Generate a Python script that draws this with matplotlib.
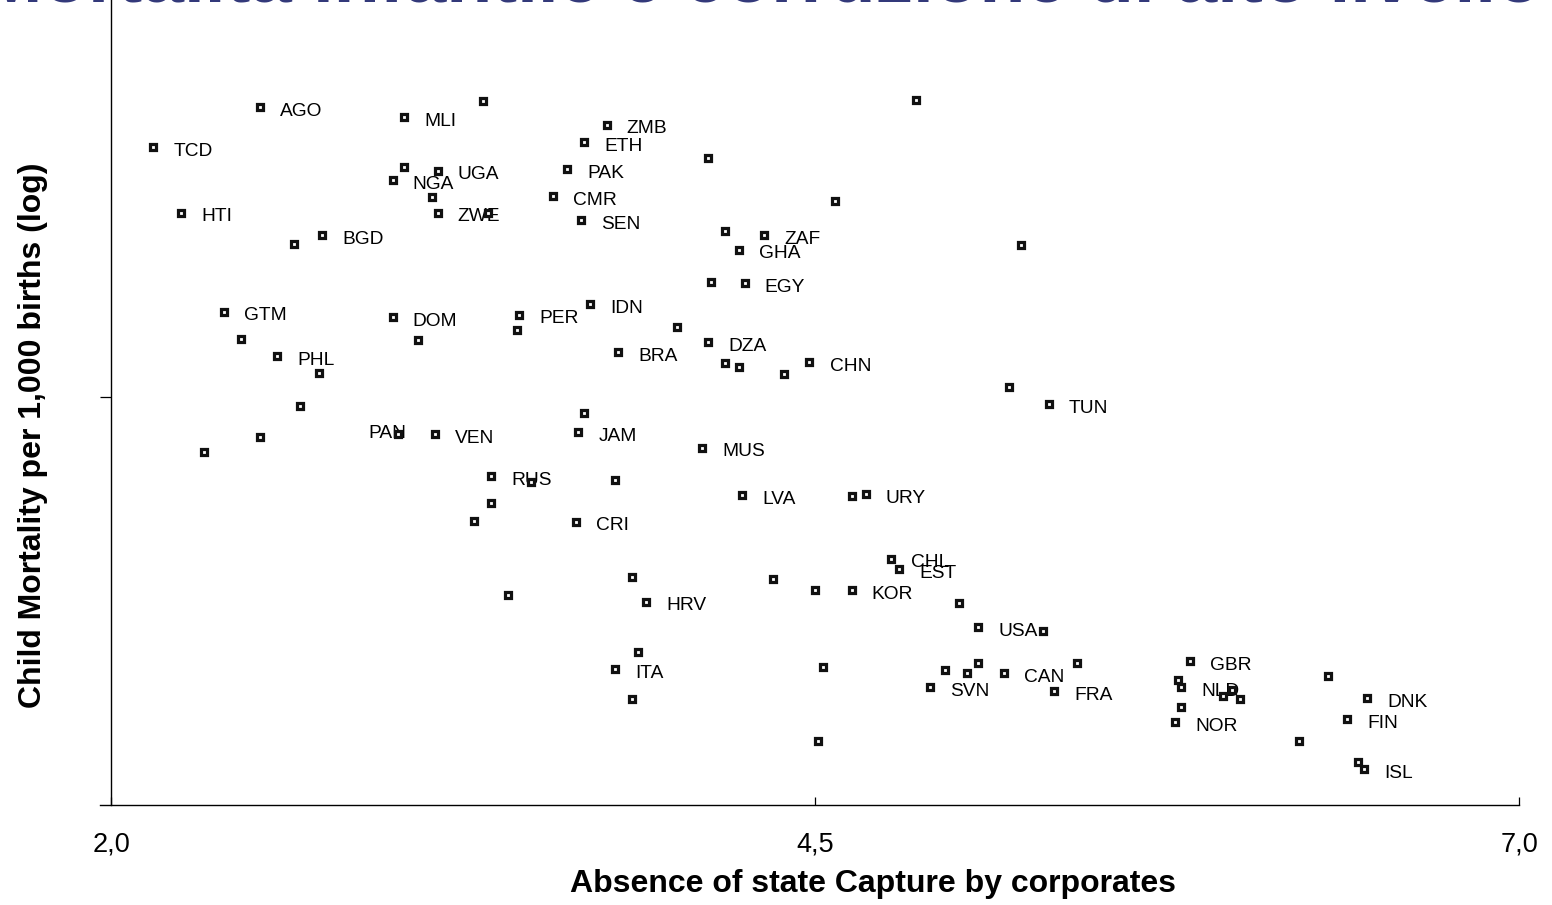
import matplotlib
matplotlib.use("Agg")
import matplotlib.pyplot as plt
from matplotlib.ticker import NullLocator, FixedLocator

plt.rcParams['font.family'] = ['Liberation Sans', 'DejaVu Sans']

# ---- Data ----
title = "Mortalità infantile e corruzione di alto livello"
x_label = "Absence of state Capture by corporates"
y_label = "Child Mortality per 1,000 births (log)"

countries = ["AGO", "MLI", "TCD", "ZMB", "ETH", "PAK", "UGA", "NGA", "ZWE", "CMR",
             "SEN", "HTI", "BGD", "ZAF", "GHA", "EGY", "GTM", "DOM", "PER", "IDN",
             "DZA", "BRA", "PHL", "CHN", "TUN", "PAN", "VEN", "JAM", "MUS", "RUS",
             "LVA", "URY", "CRI", "CHL", "EST", "KOR", "HRV", "USA", "ITA", "CAN",
             "GBR", "SVN", "FRA", "NLD", "DNK", "FIN", "NOR", "ISL"]
capture = [2.53, 3.04, 2.15, 3.76, 3.68, 3.62, 3.16, 3.00, 3.16, 3.57,
           3.67, 2.25, 2.75, 4.32, 4.23, 4.25, 2.40, 3.00, 3.45, 3.70,
           4.12, 3.80, 2.59, 4.48, 5.33, 3.02, 3.15, 3.66, 4.10, 3.35,
           4.24, 4.68, 3.65, 4.77, 4.80, 4.63, 3.90, 5.08, 3.79, 5.17,
           5.83, 4.91, 5.35, 5.80, 6.46, 6.39, 5.78, 6.45]
mortality = [277, 259, 212, 246, 219, 183, 181, 170, 137, 153,
             130, 137, 118, 118, 107, 85.6, 70.6, 68.2, 69.2, 74.4,
             57.7, 54.0, 52.6, 50.5, 38.2, 31.2, 31.2, 31.6, 28.5, 23.6,
             20.8, 20.9, 17.4, 13.6, 12.7, 11.0, 10.2, 8.62, 6.51, 6.34,
             6.87, 5.77, 5.62, 5.77, 5.36, 4.66, 4.57, 3.34]

other_capture = [3.32, 4.86, 4.12, 3.04, 3.14, 3.34, 4.57, 2.65, 4.18, 5.23,
                 4.13, 3.44, 4.01, 2.46, 3.09, 4.18, 4.23, 4.39, 2.74, 5.19,
                 2.67, 3.68, 2.53, 2.33, 3.49, 3.79, 4.63, 3.35, 3.29, 3.85,
                 4.35, 3.41, 4.50, 5.01, 5.31, 3.87, 4.53, 4.96, 5.04, 5.08,
                 5.43, 6.32, 5.79, 5.95, 5.98, 6.01, 3.85, 5.80, 4.51, 6.22,
                 6.43]
other_mortality = [288, 290, 197, 186, 152, 137, 148, 111, 121, 110,
                   86.2, 62.6, 63.8, 58.9, 58.5, 50.2, 48.9, 46.6, 47.0, 42.8,
                   37.7, 36.0, 30.6, 27.7, 22.7, 23.0, 20.7, 19.7, 17.5, 12.0,
                   11.9, 10.7, 11.0, 10.1, 8.39, 7.30, 6.60, 6.45, 6.34, 6.78,
                   6.78, 6.21, 6.07, 5.44, 5.66, 5.33, 5.33, 5.06, 4.03, 4.03,
                   3.50]

x_ticks = [2.0, 4.5, 7.0]
x_ticklabels = ["2,0", "4,5", "7,0"]
y_ticks = [40]

# ---- Figure ----
W, H = 1552, 905
fig = plt.figure(figsize=(W / 100, H / 100), dpi=100)
ax_left, ax_right, ax_bottom, ax_top = 100, 1519, 805, 0
ax = fig.add_axes([ax_left / W, (H - ax_bottom) / H,
                   (ax_right - ax_left) / W, (ax_bottom - ax_top) / H])

ax.set_yscale('log')
ax.set_xlim(2.0 - 11 / 281.6, 7.0)
ax.set_ylim(2.627, 566.0)

mk = dict(marker='s', linestyle='none', markersize=4.8, markeredgewidth=2.3,
          markerfacecolor='white', markeredgecolor='#111111', zorder=3,
          clip_on=False)
ax.plot(other_capture, other_mortality, **mk)
ax.plot(capture, mortality, **mk)

special_offsets = {"PAN": (-21.6, -2.9)}
for c, xv, yv in zip(countries, capture, mortality):
    off = special_offsets.get(c, (14.5, -6.2))
    ax.annotate(c, (xv, yv), xytext=off, textcoords='offset points',
                ha='left', va='baseline', fontsize=13.8, color='black',
                zorder=2, annotation_clip=False)

# spines
for s in ['top', 'right']:
    ax.spines[s].set_visible(False)
ax.spines['left'].set_position(('data', 2.0))
for s in ['left', 'bottom']:
    ax.spines[s].set_linewidth(1.0)
    ax.spines[s].set_color('black')

ax.xaxis.set_major_locator(FixedLocator(x_ticks))
ax.set_xticklabels(x_ticklabels)
ax.yaxis.set_major_locator(FixedLocator(y_ticks))
ax.yaxis.set_minor_locator(NullLocator())
ax.set_yticklabels([''])
ax.tick_params(axis='x', direction='in', length=6, width=0.9, labelsize=19.5, pad=19)
ax.tick_params(axis='y', direction='out', length=8, width=0.9)

ax.set_xlabel(x_label, fontsize=23, fontweight='bold')
ax.xaxis.label.set_va('baseline')
ax.xaxis.set_label_coords((873 - ax_left) / (ax_right - ax_left),
                          (ax_bottom - 892) / (ax_bottom - ax_top))
ax.set_ylabel(y_label, fontsize=23, fontweight='bold')
ax.yaxis.label.set_va('center')
ax.yaxis.set_label_coords((33 - ax_left) / (ax_right - ax_left),
                          (ax_bottom - 435) / (ax_bottom - ax_top))

# title: only its bottom edge shows at the top of the picture
fig.text(-20 / W, 1 - 2.5 / H, title, ha='left', va='baseline', fontsize=54,
         fontweight='bold', color='#33397a')

fig.savefig('out.png', dpi=100)
